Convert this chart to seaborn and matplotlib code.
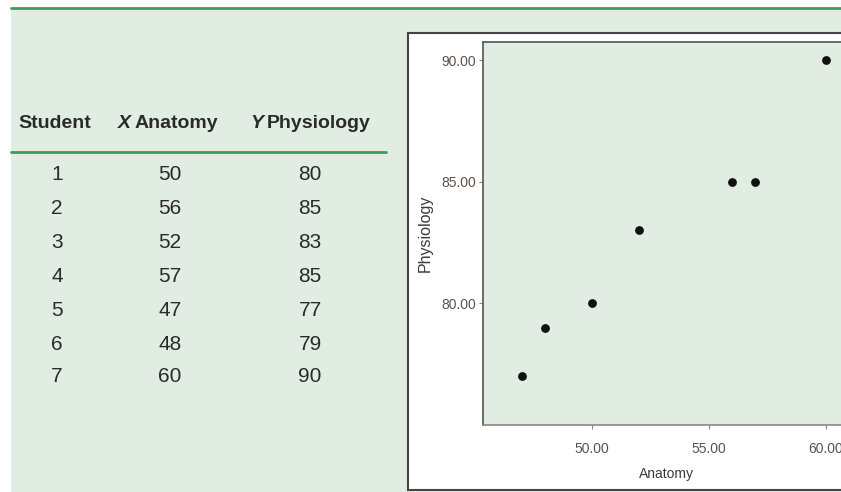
import matplotlib
matplotlib.use("Agg")
import matplotlib.pyplot as plt
import seaborn as sns
import pandas as pd
from matplotlib.patches import Rectangle
from matplotlib.lines import Line2D

students = [1, 2, 3, 4, 5, 6, 7]
anatomy = [50, 56, 52, 57, 47, 48, 60]
physiology = [80, 85, 83, 85, 77, 79, 90]

df = pd.DataFrame({"Student": students, "Anatomy": anatomy, "Physiology": physiology})

sns.set_style("white")
plt.rcParams["font.family"] = ["Liberation Sans", "DejaVu Sans"]

W, H = 841, 492
bg = "#e1ece3"
green = "#3f9b5e"
txt = "#2a2a2a"

fig = plt.figure(figsize=(W / 100, H / 100), dpi=100, facecolor="white")

def fx(px):
    return px / W

def fy(py):
    return 1 - py / H

# light green page background and green top rule
fig.patches.append(Rectangle((fx(11), 0), 1, fy(8), transform=fig.transFigure,
                             facecolor=bg, edgecolor="none", zorder=-3))
fig.lines.append(Line2D([fx(11), 1], [fy(8), fy(8)], transform=fig.transFigure,
                        color=green, lw=2))

# --- table ---
fs = 14
hy = fy(123)
fig.text(fx(18), hy, "Student", fontsize=fs, fontweight="bold", color=txt, va="center")
fig.text(fx(118), hy, "X", fontsize=fs, fontweight="bold", style="italic", color=txt, va="center")
fig.text(fx(135), hy, "Anatomy", fontsize=fs, fontweight="bold", color=txt, va="center")
fig.text(fx(250), hy, "Y", fontsize=fs, fontweight="bold", style="italic", color=txt, va="center")
fig.text(fx(267), hy, "Physiology", fontsize=fs, fontweight="bold", color=txt, va="center")
fig.lines.append(Line2D([fx(11), fx(386)], [fy(152), fy(152)], transform=fig.transFigure,
                        color=green, lw=2))

row_y = [175, 209, 243, 277, 311, 344, 377]
for i, r in df.iterrows():
    y = fy(row_y[i])
    fig.text(fx(57), y, str(r["Student"]), fontsize=15, color=txt, ha="center", va="center")
    fig.text(fx(170), y, str(r["Anatomy"]), fontsize=15, color=txt, ha="center", va="center")
    fig.text(fx(310), y, str(r["Physiology"]), fontsize=15, color=txt, ha="center", va="center")

# --- scatter panel ---
fig.patches.append(Rectangle((fx(408), fy(490)), 1, fy(33) - fy(490), transform=fig.transFigure,
                             facecolor="white", edgecolor="#444444", lw=1.5, zorder=-2))

ax = fig.add_axes([fx(483), fy(425), fx(366), fy(42) - fy(425)])
ax.set_zorder(2)
ax.set_facecolor(bg)
sns.scatterplot(data=df, x="Anatomy", y="Physiology", ax=ax, color="#111111",
                s=40, edgecolor="#111111", linewidth=0, legend=False)
ax.set_xlim(45.35, 61.0)
ax.set_ylim(75.0, 90.75)
ax.set_xticks([50, 55, 60])
ax.set_yticks([80, 85, 90])
ax.set_xticklabels(["50.00", "55.00", "60.00"])
ax.set_yticklabels(["80.00", "85.00", "90.00"])
tick_c = "#5e5249"
ax.tick_params(axis="both", length=3, width=0.8, color="#888888", labelsize=10,
               labelcolor=tick_c, pad=2, left=True, bottom=True)
ax.tick_params(axis="x", pad=9)
for s in ["top", "left", "right"]:
    ax.spines[s].set_color("#555555")
    ax.spines[s].set_linewidth(1.2)
ax.spines["bottom"].set_color("#888888")
ax.spines["bottom"].set_linewidth(1.2)
ax.set_xlabel("Anatomy", fontsize=10, color="#3a3a3a", labelpad=8)
ax.set_ylabel("Physiology", fontsize=11.5, color="#3a3a3a", labelpad=6)

fig.savefig("out.png", dpi=100, facecolor="white")
